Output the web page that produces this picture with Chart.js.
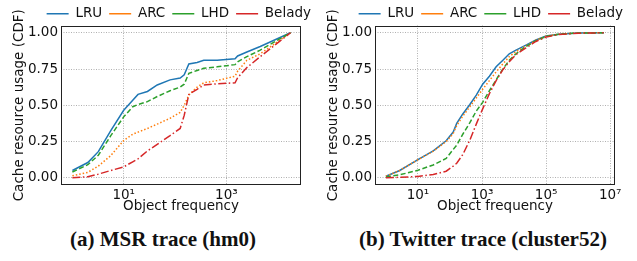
<!DOCTYPE html>
<html>
<head>
<meta charset="utf-8">
<script src="https://cdn.jsdelivr.net/npm/chart.js@4"></script>
<style>
  body { margin: 0; background: #fff; }
  #wrap { position: relative; width: 637px; height: 261px; }
  canvas { position: absolute; top: 0; }
  .cap { position: absolute; top: 227px; width: 260px; text-align: center; font: bold 21px "Liberation Serif", serif; line-height: 24px; color: #111; }
</style>
</head>
<body>
<div id="wrap">
  <canvas id="msr" width="318" height="215" style="left:0"></canvas>
  <canvas id="twitter" width="312" height="215" style="left:318px"></canvas>
  <div class="cap" style="left:33px">(a) MSR trace (hm0)</div>
  <div class="cap" style="left:353px">(b) Twitter trace (cluster52)</div>
</div>
<script>
const seriesNames = ["LRU", "ARC", "LHD", "Belady"];
const colors = ["#1f77b4", "#ff7f0e", "#2ca02c", "#d62728"];
const dashes = [[], [1.5, 2], [5, 2.5], [8, 2.5, 1.5, 2.5]];

// (a) MSR hm0
const msrFreq   = [1, 2, 3.2, 5.6, 10, 15, 19, 29, 45, 80, 126, 151, 186, 269, 363, 661, 1479, 1660, 2512, 4571, 17800];
const msrLru    = [0.05, 0.105, 0.18, 0.325, 0.465, 0.535, 0.575, 0.595, 0.64, 0.675, 0.688, 0.71, 0.785, 0.795, 0.81, 0.81, 0.82, 0.84, 0.867, 0.905, 1.0];
const msrArc    = [0.014, 0.037, 0.08, 0.153, 0.257, 0.30, 0.315, 0.34, 0.37, 0.41, 0.45, 0.50, 0.57, 0.625, 0.655, 0.67, 0.70, 0.735, 0.81, 0.855, 1.0];
const msrLhd    = [0.04, 0.09, 0.155, 0.29, 0.42, 0.49, 0.505, 0.525, 0.56, 0.60, 0.625, 0.645, 0.72, 0.74, 0.755, 0.765, 0.78, 0.80, 0.835, 0.88, 1.0];
const msrBelady = [0, 0.007, 0.025, 0.05, 0.075, 0.11, 0.13, 0.185, 0.23, 0.29, 0.34, 0.43, 0.575, 0.61, 0.64, 0.648, 0.655, 0.69, 0.76, 0.835, 1.0];

// (b) Twitter cluster52
const twFreq    = [1, 2.7, 10, 30, 76, 126, 162, 251, 417, 661, 1047, 1698, 2754, 4467, 7079, 11480, 23440, 47860, 100000, 251190, 1000000, 6300000];
const twLru     = [0.01, 0.05, 0.125, 0.185, 0.255, 0.315, 0.375, 0.44, 0.505, 0.57, 0.645, 0.70, 0.765, 0.81, 0.855, 0.88, 0.915, 0.95, 0.978, 0.99, 0.998, 1.0];
const twArc     = [0.01, 0.05, 0.125, 0.183, 0.25, 0.305, 0.36, 0.425, 0.49, 0.55, 0.61, 0.67, 0.73, 0.785, 0.835, 0.87, 0.91, 0.948, 0.977, 0.99, 0.998, 1.0];
const twLhd     = [0.005, 0.02, 0.052, 0.088, 0.133, 0.195, 0.225, 0.30, 0.38, 0.46, 0.52, 0.60, 0.675, 0.75, 0.81, 0.855, 0.905, 0.945, 0.975, 0.99, 0.998, 1.0];
const twBelady  = [0, 0.003, 0.009, 0.022, 0.045, 0.08, 0.10, 0.16, 0.26, 0.37, 0.475, 0.58, 0.67, 0.745, 0.80, 0.85, 0.895, 0.94, 0.97, 0.988, 0.997, 1.0];

const yTicks = [0, 0.25, 0.5, 0.75, 1];
const msrXTicks = [10, 1000];
const msrXLabels = ["10\u00b9", "10\u00b3"];
const twXTicks = [10, 1000, 100000, 10000000];
const twXLabels = ["10\u00b9", "10\u00b3", "10\u2075", "10\u2077"];

Chart.defaults.font.family = "'DejaVu Sans', sans-serif";
Chart.defaults.font.size = 13.5;
Chart.defaults.color = "#111";

const frame = {
  id: "frame",
  afterDatasetsDraw(chart) {
    const a = chart.chartArea, ctx = chart.ctx;
    ctx.save();
    ctx.strokeStyle = "#222";
    ctx.lineWidth = 1;
    ctx.strokeRect(Math.round(a.left) + 0.5, Math.round(a.top) + 0.5,
      Math.round(a.right) - Math.round(a.left) - 1, Math.round(a.bottom) - Math.round(a.top) - 1);
    ctx.restore();
  }
};

function makeChart(id, freq, series, xTicks, xLabels, xMin, xMax, yWidth, rightWidth, titlePad) {
  // later series sit on top, like the original plot
  const datasets = series.map((ys, i) => ({
    label: seriesNames[i],
    data: freq.map((f, j) => ({ x: f, y: ys[j] })),
    borderColor: colors[i],
    backgroundColor: colors[i],
    borderWidth: 1.5,
    borderDash: dashes[i],
    pointRadius: 0,
    tension: 0,
    fill: false,
    order: series.length - i
  }));

  return new Chart(document.getElementById(id), {
    type: "line",
    data: { datasets },
    plugins: [frame],
    options: {
      responsive: false,
      animation: false,
      layout: { padding: 0 },
      plugins: {
        tooltip: { enabled: false },
        legend: {
          position: "top",
          align: "end",
          maxHeight: 25.5,
          labels: {
            usePointStyle: true,
            pointStyle: "line",
            pointStyleWidth: 22,
            padding: 7,
            color: "#111",
            sort: (a, b) => a.datasetIndex - b.datasetIndex
          }
        }
      },
      scales: {
        x: {
          type: "logarithmic",
          min: xMin,
          max: xMax,
          afterBuildTicks: s => { s.ticks = xTicks.map(v => ({ value: v })); },
          afterFit: s => { s.height = 30; },
          ticks: {
            autoSkip: false,
            maxRotation: 0,
            padding: 2,
            callback: v => xLabels[xTicks.indexOf(v)]
          },
          grid: { color: "#b0b0b0", lineWidth: 1, drawTicks: false },
          border: { display: false, dash: [1, 1.5] },
          title: { display: true, text: "Object frequency", padding: { top: 0, bottom: 0 } }
        },
        y: {
          min: -0.05,
          max: 1.05,
          afterBuildTicks: s => { s.ticks = yTicks.map(v => ({ value: v })); },
          afterFit: s => { s.width = yWidth; },
          ticks: { padding: 3, callback: v => v.toFixed(2) },
          grid: { color: "#b0b0b0", lineWidth: 1, drawTicks: false },
          border: { display: false, dash: [1, 1.5] },
          title: { display: true, text: "Cache resource usage (CDF)", padding: { top: titlePad, bottom: 0 } }
        },
        y2: {
          position: "right",
          display: true,
          grid: { display: false },
          ticks: { display: false },
          border: { display: false },
          afterFit: s => { s.width = rightWidth; }
        }
      }
    }
  });
}

makeChart("msr", msrFreq, [msrLru, msrArc, msrLhd, msrBelady], msrXTicks, msrXLabels,
  0.6, 28500, 61, 17, 11.5);
makeChart("twitter", twFreq, [twLru, twArc, twLhd, twBelady], twXTicks, twXLabels,
  0.457, 14100000, 57, 15, 7);
</script>
</body>
</html>
